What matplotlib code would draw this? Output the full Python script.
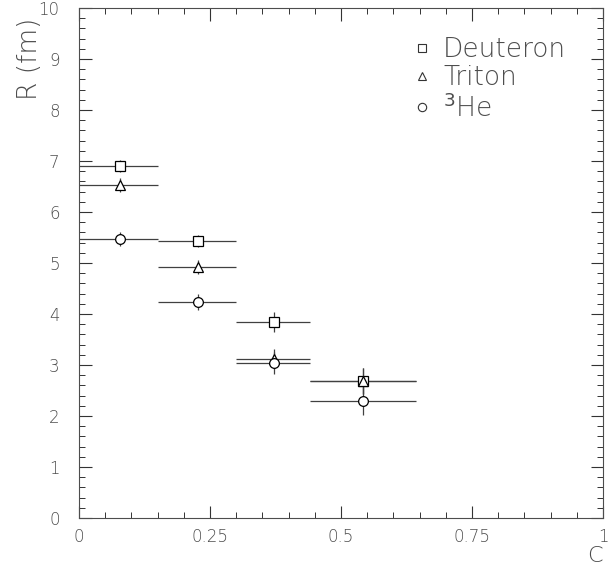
import numpy as np
import matplotlib.pyplot as plt
from matplotlib.ticker import MultipleLocator
from matplotlib.lines import Line2D

# bins in C
x_center = np.array([0.078, 0.227, 0.372, 0.542])
x_lo = np.array([0.0, 0.15, 0.30, 0.44])
x_hi = np.array([0.15, 0.30, 0.44, 0.643])

# radii (fm) and errors
r_deut = np.array([6.90, 5.43, 3.84, 2.69])
e_deut = np.array([0.12, 0.11, 0.20, 0.26])
r_trit = np.array([6.53, 4.92, 3.12, 2.69])
e_trit = np.array([0.14, 0.14, 0.19, 0.26])
r_he3 = np.array([5.47, 4.24, 3.04, 2.29])
e_he3 = np.array([0.14, 0.16, 0.21, 0.28])

labels = ["Deuteron", "Triton", "$^{3}$He"]
markers = ["s", "^", "o"]

xerr = np.vstack([x_center - x_lo, x_hi - x_center])

fig = plt.figure(figsize=(6.11, 5.71), dpi=100)
ax = fig.add_axes([79/611, 53/571, 524/611, 510/571])

txt = "0.3"
handles = []
for r, e, m, lab in zip([r_deut, r_trit, r_he3], [e_deut, e_trit, e_he3], markers, labels):
    ax.errorbar(x_center, r, xerr=xerr, yerr=e, fmt=m, mfc="white", mec="black",
                ms=7, mew=0.9, ecolor="0.25", elinewidth=0.9, capsize=0)
    handles.append(Line2D([], [], ls="none", marker=m, mfc="white", mec="0.2",
                          ms=6, mew=0.8, label=lab))

ax.set_xlim(0, 1)
ax.set_ylim(0, 10)
ax.xaxis.set_minor_locator(MultipleLocator(0.05))
ax.yaxis.set_major_locator(MultipleLocator(1))
ax.yaxis.set_minor_locator(MultipleLocator(0.2))
ax.set_xticks([0, 0.25, 0.5, 0.75, 1])
ax.set_xticklabels(["0", "0.25", "0.5", "0.75", "1"])
ax.tick_params(which="both", direction="in", top=True, right=True, color="0.2",
               labelsize=12, labelcolor=txt)
ax.tick_params(which="major", length=9, width=0.8)
ax.tick_params(which="minor", length=4, width=0.7)
ax.tick_params(axis="y", pad=14)
ax.tick_params(axis="x", pad=7)
for s in ax.spines.values():
    s.set_linewidth(0.8)
    s.set_color("0.3")

for lbl in ax.get_xticklabels() + ax.get_yticklabels():
    lbl.set_fontweight("light")

ax.set_ylabel("R (fm)", fontsize=19, color=txt, fontweight="light")
ax.yaxis.set_label_coords(-0.07, 0.9)
ax.set_xlabel("C", fontsize=16, color=txt, fontweight="light", loc="right")
ax.xaxis.set_label_coords(1.0, -0.055)

leg = ax.legend(handles=handles, loc="upper right", bbox_to_anchor=(0.975, 0.99),
                frameon=False, fontsize=19, handletextpad=0.4, labelspacing=0.12,
                handlelength=0.8)
for t in leg.get_texts():
    t.set_color(txt)
    t.set_fontweight("light")

fig.savefig("out.png", dpi=100)
